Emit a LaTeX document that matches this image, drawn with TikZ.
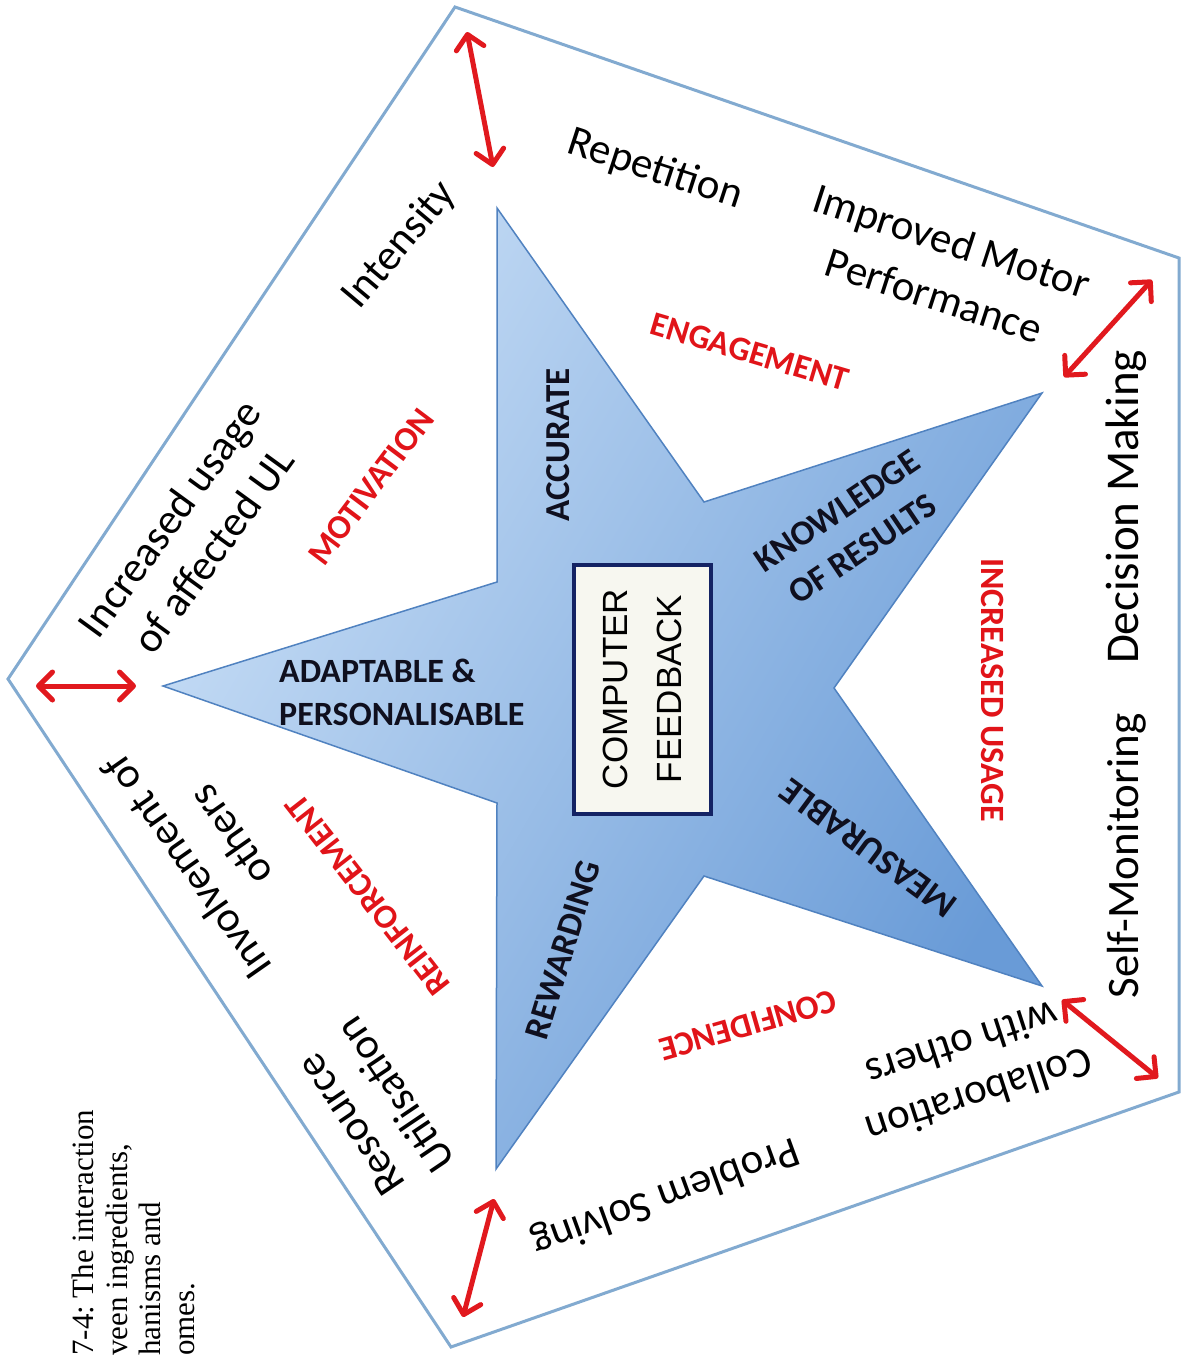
\documentclass[tikz,border=0pt]{standalone}
\usepackage{fontspec}
\setmainfont{Carlito}
\newfontfamily\capfont{Liberation Serif}
\newfontfamily\boxfont{Liberation Sans}
\usetikzlibrary{arrows.meta}
\frenchspacing

\definecolor{edgeblue}{RGB}{130,170,208}
\definecolor{starlight}{RGB}{200,222,246}
\definecolor{stardark}{RGB}{105,155,215}
\definecolor{starline}{RGB}{80,130,192}
\definecolor{arrowred}{RGB}{225,25,30}
\definecolor{labelred}{RGB}{225,20,25}
\definecolor{boxnavy}{RGB}{20,35,100}
\definecolor{boxfill}{RGB}{247,247,240}
\definecolor{inkdark}{RGB}{15,15,30}

\begin{document}
\begin{tikzpicture}[x=1pt,y=-1pt,
  outcome/.style={font=\fontsize{43}{54}\selectfont, align=center, inner sep=0pt, text=black},
  mechanism/.style={font=\fontsize{34}{40}\selectfont\bfseries, text=labelred, inner sep=0pt, align=center},
  ingredient/.style={font=\fontsize{35}{46}\selectfont\bfseries, text=inkdark, inner sep=0pt, align=center},
  link/.style={draw=arrowred, line width=5pt,
    {Straight Barb[length=14pt,width=28pt,round]}-{Straight Barb[length=14pt,width=28pt,round]}},
]
\useasboundingbox (0,0) rectangle (1182,1358);
\clip (0,0) rectangle (1182,1358);
\fill[white] (0,0) rectangle (1182,1358);

% outer pentagon
\coordinate (pL)  at (8,679);
\coordinate (pT)  at (455,7);
\coordinate (pR1) at (1179,258);
\coordinate (pR2) at (1179,1092);
\coordinate (pB)  at (451,1347);
\draw[edgeblue, line width=3pt] (pL) -- (pT) -- (pR1) -- (pR2) -- (pB) -- cycle;

% five-pointed star
\coordinate (sL)  at (163,686);
\coordinate (sLT) at (497,582);
\coordinate (sT)  at (497,208);
\coordinate (sTR) at (704,502);
\coordinate (sR1) at (1042,393);
\coordinate (sRR) at (834,688);
\coordinate (sR2) at (1042,986);
\coordinate (sRB) at (704,876);
\coordinate (sB)  at (496,1169);
\coordinate (sBL) at (497,803);
\path[draw=starline, line width=1.5pt, shading=axis, top color=starlight,
      bottom color=stardark, shading angle=60]
  (sL) -- (sLT) -- (sT) -- (sTR) -- (sR1) -- (sRR) -- (sR2) -- (sRB)
  -- (sB) -- (sBL) -- cycle;

% central box
\node[rotate=90, draw=boxnavy, line width=4pt, fill=boxfill,
      minimum width=249pt, minimum height=137pt, inner sep=0pt, align=center,
      font=\boxfont\fontsize{35}{54}\selectfont] (feedback) at (642,689)
  {COMPUTER\\FEEDBACK};

% ingredients on the star
\node[ingredient, rotate=90] (accurate) at (558,445) {ACCURATE};
\node[ingredient, rotate=34] (knowledge) at (850,530) {KNOWLEDGE\\OF RESULTS};
\node[ingredient, rotate=143.6, font=\fontsize{36.5}{46}\selectfont\bfseries]
  (measurable) at (868,848) {MEASURABLE};
\node[ingredient, rotate=73] (rewarding) at (563,950) {REWARDING};
\node[ingredient, anchor=west, align=left, font=\fontsize{34}{43}\selectfont\bfseries]
  (adaptable) at (279,692) {ADAPTABLE \&\\PERSONALISABLE};

% mechanisms
\node[mechanism, rotate=53] (motivation) at (371,487) {MOTIVATION};
\node[mechanism, rotate=-16.5] (engagement) at (750,352) {ENGAGEMENT};
\node[mechanism, rotate=-90] (incusage) at (993,690) {INCREASED USAGE};
\node[mechanism, rotate=196] (confidence) at (748,1025) {CONFIDENCE};
\node[mechanism, rotate=128] (reinforce) at (368,895) {REINFORCEMENT};

% outcomes around the pentagon
\node[outcome, rotate=50] (intensity) at (400,245) {Intensity};
\node[outcome, rotate=54] (usage) at (191,534) {Increased usage\\of affected UL};
\node[outcome, rotate=-18] (repetition) at (655,170) {Repetition};
\node[outcome, rotate=-18, font=\fontsize{43}{57}\selectfont] (motor) at (943,268)
  {Improved Motor\\Performance};
\node[outcome, rotate=90, font=\fontsize{47}{56}\selectfont] (decision) at (1126,507)
  {Decision Making};
\node[outcome, rotate=90, font=\fontsize{45}{56}\selectfont] (selfmon) at (1127,856)
  {Self-Monitoring};
\node[outcome, rotate=198] (collab) at (971,1071) {Collaboration\\with others};
\node[outcome, rotate=200] (problem) at (665,1196) {Problem Solving};
\node[outcome, rotate=124] (resource) at (373,1110) {Resource\\Utilisation};
\node[outcome, rotate=125] (involve) at (208,852) {Involvement of\\others};

% double-headed arrows near the corners
\coordinate (aL1) at (36,686);   \coordinate (aL2) at (136,686);
\coordinate (aT1) at (467,32);   \coordinate (aT2) at (493,167);
\coordinate (aR1) at (1152,280); \coordinate (aR2) at (1064,377);
\coordinate (aS1) at (1062,1000);\coordinate (aS2) at (1158,1078);
\coordinate (aB1) at (494,1199); \coordinate (aB2) at (463,1317);
\draw[link] (aL1) -- (aL2);
\draw[link] (aT1) -- (aT2);
\draw[link] (aR1) -- (aR2);
\draw[link] (aS1) -- (aS2);
\draw[link] (aB1) -- (aB2);

% caption fragment
\node[rotate=90, anchor=north west, align=left, inner sep=0pt,
      font=\capfont\fontsize{31}{33.5}\selectfont] (caption) at (72,1356)
  {7-4: The interaction\\veen ingredients,\\hanisms and\\omes.};
\end{tikzpicture}
\end{document}
